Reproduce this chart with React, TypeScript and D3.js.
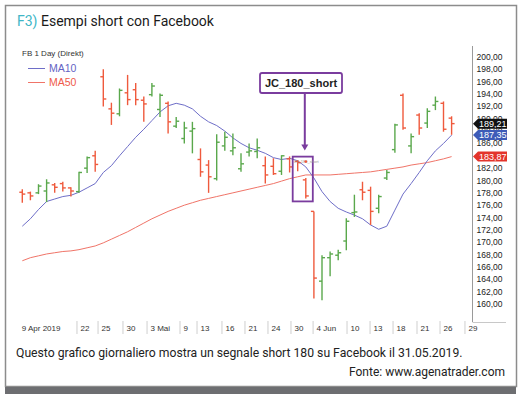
import { useEffect, useRef } from 'react';
import * as d3 from 'd3';

// trading days shown (FB daily)
const dates = [
  '10.04', '11.04', '12.04', '15.04', '16.04', '17.04', '18.04', '22.04', '23.04', '24.04',
  '25.04', '26.04', '29.04', '30.04', '01.05', '02.05', '03.05', '06.05', '07.05', '08.05',
  '09.05', '10.05', '13.05', '14.05', '15.05', '16.05', '17.05', '20.05', '21.05', '22.05',
  '23.05', '24.05', '28.05', '29.05', '30.05', '31.05', '03.06', '04.06', '05.06', '06.06',
  '07.06', '10.06', '11.06', '12.06', '13.06', '14.06', '17.06', '18.06', '19.06', '20.06',
  '21.06', '24.06', '25.06', '26.06',
];
const opens = [
  178.1, 178.0, 178.0, 178.3, 179.3, 179.5, 178.8, 178.2, 182.0, 184.0,
  196.8, 191.6, 190.8, 194.2, 194.7, 193.0, 193.9, 191.5, 192.5, 188.8,
  186.8, 188.0, 183.4, 182.5, 180.3, 185.6, 184.8, 181.9, 184.6, 184.7,
  182.4, 182.3, 181.5, 183.5, 183.1, 180.1, 175.0, 163.7, 167.5, 167.9,
  170.2, 174.8, 178.5, 178.4, 175.5, 180.4, 185.0, 193.8, 185.6, 190.6,
  189.3, 192.2, 192.5, 190.1,
];
const highs = [
  178.6, 178.2, 179.4, 180.2, 179.6, 179.8, 178.9, 181.4, 183.9, 184.8,
  198.0, 192.6, 194.9, 197.1, 195.8, 193.6, 195.8, 194.1, 192.8, 190.3,
  189.5, 189.5, 185.2, 183.3, 187.5, 187.9, 187.6, 184.4, 186.0, 186.8,
  183.9, 183.6, 184.1, 183.9, 183.3, 180.4, 175.0, 167.9, 168.5, 168.8,
  173.9, 177.7, 179.8, 179.0, 177.7, 181.7, 189.2, 194.1, 187.6, 190.9,
  191.7, 193.6, 192.8, 190.4,
];
const lows = [
  176.4, 176.8, 177.8, 176.5, 178.0, 178.2, 177.4, 178.0, 181.2, 181.4,
  192.0, 189.0, 190.4, 192.2, 192.2, 189.5, 193.6, 190.3, 187.6, 188.5,
  186.0, 184.4, 180.6, 178.0, 180.0, 184.8, 184.1, 181.4, 183.9, 183.6,
  179.5, 180.9, 180.9, 181.3, 181.5, 177.1, 160.9, 160.6, 164.5, 167.1,
  168.7, 174.1, 176.8, 172.8, 174.7, 180.1, 184.5, 188.2, 184.4, 187.4,
  188.5, 191.4, 187.9, 187.4,
];
const closes = [
  177.8, 177.5, 179.1, 179.6, 178.9, 178.8, 178.3, 181.3, 183.7, 182.6,
  193.2, 190.9, 194.6, 193.1, 193.1, 192.4, 195.3, 193.8, 189.5, 189.6,
  188.5, 188.4, 181.4, 180.6, 186.2, 187.0, 185.3, 182.7, 184.8, 185.3,
  180.9, 181.1, 184.0, 182.2, 182.9, 177.5, 164.2, 167.5, 168.1, 168.3,
  173.4, 174.9, 178.1, 175.0, 177.4, 181.3, 189.0, 188.5, 187.1, 188.5,
  191.2, 192.8, 188.3, 189.21,
];
const ma10 = [
  172.6, 173.8, 175.3, 176.6, 177.0, 177.4, 177.6, 178.1, 178.8, 179.5,
  181.3, 182.4, 184.0, 185.5, 187.0, 188.3, 189.7, 191.1, 192.1, 192.5,
  192.2, 191.6, 190.4, 189.5, 188.9, 188.0, 186.9, 186.0, 185.3, 184.9,
  184.4, 183.7, 183.4, 183.6, 183.2, 182.2, 180.4, 178.2, 176.6, 175.5,
  174.9, 174.4, 173.8, 172.8, 172.1, 172.6, 175.2, 177.8, 179.5, 181.3,
  183.2, 184.8, 186.0, 187.35,
];
const ma50 = [
  167.0, 167.5, 167.8, 168.1, 168.3, 168.5, 168.6, 168.8, 169.1, 169.4,
  169.9, 170.5, 171.1, 171.7, 172.4, 173.1, 173.8, 174.4, 175.0, 175.5,
  176.0, 176.4, 176.8, 177.1, 177.4, 177.7, 178.0, 178.3, 178.6, 178.9,
  179.2, 179.5, 179.9, 180.3, 180.6, 180.9, 180.9, 180.9, 180.9, 181.0,
  181.1, 181.2, 181.3, 181.4, 181.6, 181.8, 182.0, 182.2, 182.5, 182.7,
  182.9, 183.2, 183.5, 183.87,
];

// date axis: label and position in trading-day units
const tickLabels = ['9 Apr 2019', '22', '25', '30', '3 Mai', '9', '13', '16', '21', '24', '30', '4 Jun', '10', '13', '18', '21', '26', '29'];
const tickPos = [-0.5, 6.75, 9.35, 12.43, 15.4, 19.47, 21.57, 24.65, 27.49, 30.33, 33.17, 35.9, 40.09, 42.93, 45.77, 48.73, 51.57, 54.65];

const signalDates = ['30.05', '31.05'];

const RED = '#ef5a3d';
const GREEN = '#5aa84c';
const BLUE = '#6e6ec8';
const PURPLE = '#7a3c9e';

const App = () => {
  const svgRef = useRef<SVGSVGElement>(null);

  useEffect(() => {
    const width = 528;
    const height = 399;
    const svg = d3.select(svgRef.current);
    svg.selectAll('*').remove();
    svg.attr('width', width).attr('height', height);

    // cornice e barra inferiore
    svg.append('rect').attr('x', 0).attr('y', 0).attr('width', width).attr('height', height).attr('fill', '#fff');
    svg.append('rect')
      .attr('x', 5.5).attr('y', 5.5).attr('width', 511).attr('height', 381)
      .attr('fill', 'none').attr('stroke', '#8c8c8c').attr('stroke-width', 1.5);
    svg.append('rect').attr('x', 5).attr('y', 387).attr('width', 511).attr('height', 7).attr('fill', '#6d6e71');

    // titolo
    const title = svg.append('text')
      .attr('x', 17).attr('y', 26)
      .style('font-family', 'Roboto, sans-serif')
      .style('font-size', '14px');
    title.append('tspan').attr('fill', '#40b6c6').text('F3) ');
    title.append('tspan').attr('fill', '#1a1a1a').text('Esempi short con Facebook');

    // scale
    const x = d3.scaleLinear().domain([0, dates.length - 1]).range([22.3, 451.6]);
    const y = d3.scaleLinear().domain([160, 200]).range([304, 57]);

    const g = svg.append('g').style('font-family', '"Liberation Sans", Arial, sans-serif');

    g.append('text').attr('x', 22).attr('y', 56)
      .style('font-size', '8px').attr('fill', '#333').text('FB 1 Day (Direkt)');

    // legenda
    const legend = [{ name: 'MA10', color: BLUE, text: '#6464c4' }, { name: 'MA50', color: '#f07468', text: '#ef5a4a' }];
    legend.forEach((d, i) => {
      const ly = 68.5 + i * 14;
      g.append('line').attr('x1', 28).attr('x2', 45).attr('y1', ly).attr('y2', ly)
        .attr('stroke', d.color).attr('stroke-width', 1);
      g.append('text').attr('x', 49).attr('y', ly + 3.8)
        .style('font-size', '10.5px').attr('fill', d.text).text(d.name);
    });

    // medie mobili
    const line = d3.line<number>().x((d, i) => x(i)).y(d => y(d));
    g.append('path').datum(ma50).attr('d', line).attr('fill', 'none')
      .attr('stroke', '#f07468').attr('stroke-width', 1);
    g.append('path').datum(ma10).attr('d', line).attr('fill', 'none')
      .attr('stroke', BLUE).attr('stroke-width', 1);

    // barre OHLC
    const bars = g.selectAll('.bar')
      .data(dates.map((d, i) => ({ i, o: opens[i], h: highs[i], l: lows[i], c: closes[i] })))
      .enter().append('g')
      .attr('class', 'bar')
      .attr('stroke', d => (d.c >= d.o ? GREEN : RED))
      .attr('stroke-width', 1.4);
    bars.append('line').attr('x1', d => x(d.i)).attr('x2', d => x(d.i))
      .attr('y1', d => y(d.h)).attr('y2', d => y(d.l));
    bars.append('line').attr('x1', d => x(d.i) - 3).attr('x2', d => x(d.i))
      .attr('y1', d => y(d.o)).attr('y2', d => y(d.o));
    bars.append('line').attr('x1', d => x(d.i)).attr('x2', d => x(d.i) + 3)
      .attr('y1', d => y(d.c)).attr('y2', d => y(d.c));

    // segnale JC_180_short
    const s0 = dates.indexOf(signalDates[0]);
    const s1 = dates.indexOf(signalDates[1]);
    const sTop = y(d3.max([highs[s0], highs[s1]]) as number) - 3.5;
    const sBot = y(d3.min([lows[s0], lows[s1]]) as number) + 3;
    g.append('rect')
      .attr('x', x(s0) - 5).attr('y', sTop)
      .attr('width', x(s1) - x(s0) + 12).attr('height', sBot - sTop)
      .attr('fill', 'none').attr('stroke', PURPLE).attr('stroke-width', 1.8);
    g.append('text').attr('x', x(s0) - 4).attr('y', sTop + 6)
      .style('font-size', '4px').attr('fill', '#999').text('JC_180_short');
    g.append('circle').attr('cx', x(s1)).attr('cy', sTop + 5).attr('r', 1.4).attr('fill', RED);

    const ax = x(s1) - 1;
    g.append('line').attr('x1', ax).attr('x2', ax).attr('y1', 93).attr('y2', sTop - 11)
      .attr('stroke', PURPLE).attr('stroke-width', 2);
    g.append('path')
      .attr('d', `M${ax - 3.5},${sTop - 12} L${ax + 3.5},${sTop - 12} L${ax},${sTop - 6} Z`)
      .attr('fill', PURPLE);
    g.append('rect').attr('x', 260).attr('y', 73).attr('width', 82).attr('height', 20).attr('rx', 2)
      .attr('fill', '#fff').attr('stroke', PURPLE).attr('stroke-width', 1.8);
    g.append('text').attr('x', 301).attr('y', 87).attr('text-anchor', 'middle')
      .style('font-size', '11px').style('font-weight', '600').attr('fill', '#222').text('JC_180_short');

    // cartellini prezzo (ultimo valore, MA10, MA50)
    const tags = [
      { v: closes[closes.length - 1], fill: '#111' },
      { v: ma10[ma10.length - 1], fill: '#3d5bb8' },
      { v: ma50[ma50.length - 1], fill: '#e3342b' },
    ];

    // asse prezzi
    g.append('line').attr('x1', 472.5).attr('x2', 472.5).attr('y1', 46).attr('y2', 322)
      .attr('stroke', '#9a9a9a').attr('stroke-width', 1);
    g.append('line').attr('x1', 472.5).attr('x2', 506).attr('y1', 322.5).attr('y2', 322.5)
      .attr('stroke', '#c8c8c8').attr('stroke-width', 1);
    const fmt = (v: number) => d3.format('.2f')(v).replace('.', ',');
    // le etichette coperte del tutto dai cartellini non si vedono
    const yTicks = y.ticks(20).filter(t => !tags.some(tg => Math.abs(y(t) - y(tg.v)) < 4));
    g.selectAll('.ytick').data(yTicks).enter().append('text')
      .attr('class', 'ytick')
      .attr('x', 476.5).attr('y', d => y(d) + 3)
      .style('font-size', '8.5px').attr('fill', '#222').text(d => fmt(d));

    tags.forEach(t => {
      const cy = y(t.v);
      g.append('path')
        .attr('d', `M473,${cy} L478,${cy - 5} L507,${cy - 5} L507,${cy + 5} L478,${cy + 5} Z`)
        .attr('fill', t.fill);
      g.append('text').attr('x', 479).attr('y', cy + 3.2)
        .style('font-size', '9px').attr('fill', '#fff').text(fmt(t.v));
    });

    // asse date
    tickLabels.forEach((lab, i) => {
      const tx = x(tickPos[i]);
      if (i > 0) {
        g.append('line').attr('x1', tx).attr('x2', tx).attr('y1', 321).attr('y2', 334)
          .attr('stroke', '#cfcfcf').attr('stroke-width', 1);
      }
      g.append('text').attr('x', tx + 3.5).attr('y', 331)
        .style('font-size', '8px').attr('fill', '#333').text(lab);
    });

    // didascalia
    svg.append('text').attr('x', 16).attr('y', 357)
      .style('font-family', 'Roboto, sans-serif').style('font-size', '12.2px').attr('fill', '#222')
      .text('Questo grafico giornaliero mostra un segnale short 180 su Facebook il 31.05.2019.');
    svg.append('text').attr('x', 505).attr('y', 376).attr('text-anchor', 'end')
      .style('font-family', 'Roboto, sans-serif').style('font-size', '12px').attr('fill', '#222')
      .text('Fonte: www.agenatrader.com');
  }, []);

  return (
    <svg ref={svgRef} style={{ position: 'absolute', left: 0, top: 0, display: 'block' }}></svg>
  );
};

export default App;
